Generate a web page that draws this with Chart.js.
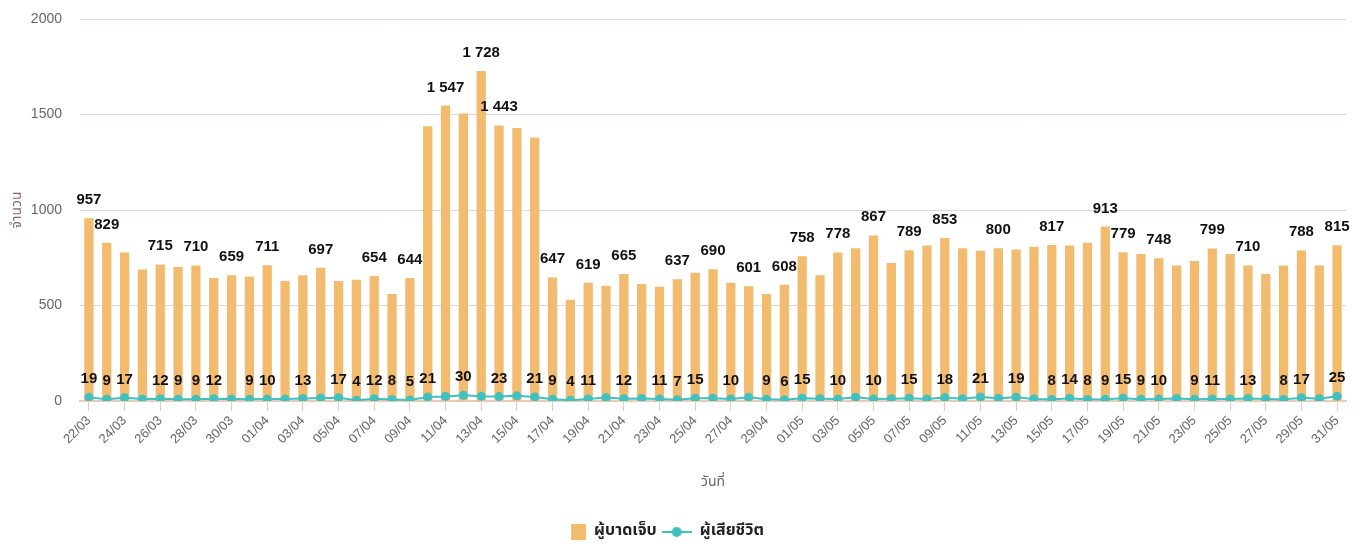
<!DOCTYPE html>
<html>
<head>
<meta charset="utf-8">
<script src="https://cdn.jsdelivr.net/npm/chart.js@4.4.0/dist/chart.umd.min.js"></script>
<style>
  html, body { margin: 0; padding: 0; background: #fff; }
  #wrap { width: 1354px; height: 545px; }
</style>
</head>
<body>
<div id="wrap"><canvas id="grafico"></canvas></div>
<script>
// datas (dd/mm) de 22/03 a 31/05
const dias = [
  '22/03','23/03','24/03','25/03','26/03','27/03','28/03','29/03','30/03','31/03',
  '01/04','02/04','03/04','04/04','05/04','06/04','07/04','08/04','09/04','10/04',
  '11/04','12/04','13/04','14/04','15/04','16/04','17/04','18/04','19/04','20/04',
  '21/04','22/04','23/04','24/04','25/04','26/04','27/04','28/04','29/04','30/04',
  '01/05','02/05','03/05','04/05','05/05','06/05','07/05','08/05','09/05','10/05',
  '11/05','12/05','13/05','14/05','15/05','16/05','17/05','18/05','19/05','20/05',
  '21/05','22/05','23/05','24/05','25/05','26/05','27/05','28/05','29/05','30/05','31/05'
];

// ผู้บาดเจ็บ
const feridos = [
  957, 829, 778, 688, 715, 702, 710, 644, 659, 651,
  711, 628, 658, 697, 628, 635, 654, 560, 644, 1438,
  1547, 1505, 1728, 1443, 1429, 1379, 647, 530, 619, 604,
  665, 612, 598, 637, 672, 690, 619, 601, 560, 608,
  758, 658, 778, 800, 867, 723, 789, 814, 853, 800,
  786, 800, 793, 807, 817, 814, 829, 913, 779, 770,
  748, 710, 733, 799, 770, 710, 665, 710, 788, 710, 815
];

// ผู้เสียชีวิต
const mortos = [
  19, 9, 17, 11, 12, 9, 9, 12, 10, 9,
  10, 10, 13, 16, 17, 4, 12, 8, 5, 21,
  24, 30, 25, 23, 27, 21, 9, 4, 11, 18,
  12, 13, 11, 7, 15, 14, 10, 19, 9, 6,
  15, 12, 10, 20, 10, 12, 15, 10, 18, 12,
  21, 14, 19, 11, 8, 14, 8, 9, 15, 9,
  10, 13, 9, 11, 10, 13, 10, 8, 17, 12, 25
];

const nomes = ['ผู้บาดเจ็บ', 'ผู้เสียชีวิต'];
const ticksY = [0, 500, 1000, 1500, 2000];

const corBarra = '#f3bb6d';
const corLinha = '#3fc2bf';
const corEixo = '#ebcab6';
const corGrade = '#e3d6d6';
const fonteNum = '"Liberation Sans", Arial, sans-serif';
const fonteThai = '"Noto Sans Thai", "Loma", "Garuda", "Tahoma", "Noto Sans", sans-serif';

function formata(v) {
  if (v < 1000) return String(v);
  return Math.floor(v / 1000) + ' ' + String(v % 1000).padStart(3, '0');
}

// marcadores da legenda
function marcaBarra() {
  const c = document.createElement('canvas');
  c.width = 30; c.height = 16;
  const g = c.getContext('2d');
  g.fillStyle = corBarra;
  g.fillRect(15, 0, 15, 16);
  return c;
}

function marcaLinha() {
  const c = document.createElement('canvas');
  c.width = 30; c.height = 12;
  const g = c.getContext('2d');
  g.strokeStyle = corLinha;
  g.lineWidth = 2;
  g.beginPath(); g.moveTo(0, 6); g.lineTo(30, 6); g.stroke();
  g.fillStyle = corLinha;
  g.beginPath(); g.arc(15, 6, 5, 0, Math.PI * 2); g.fill();
  return c;
}

// rótulos de valor, escondendo os que se sobrepõem
const rotulos = {
  id: 'rotulos',
  afterLayout(chart) {
    // legenda um pouco mais à esquerda e mais abaixo
    const l = chart.legend;
    l.left -= 13;
    l.right -= 13;
    l.top += 5;
    l.bottom += 5;
  },
  afterDatasetsDraw(chart) {
    const ctx = chart.ctx;
    ctx.save();
    ctx.font = 'bold 15px ' + fonteNum;
    ctx.fillStyle = '#111';
    ctx.textAlign = 'center';
    ctx.textBaseline = 'alphabetic';

    const cruza = (a, b) => a.x1 < b.x2 && b.x1 < a.x2 && a.y1 < b.y2 && b.y1 < a.y2;

    const caixa = (el, v, pad) => {
      const txt = formata(v);
      const w = ctx.measureText(txt).width;
      const base = el.y - 14;
      return { txt, x: el.x, base, x1: el.x - w / 2 - pad, x2: el.x + w / 2 + pad, y1: base - 17, y2: base + 5 };
    };

    // barras: maior valor primeiro
    const barras = chart.getDatasetMeta(0).data.map((el, i) => caixa(el, feridos[i], 2));
    const ordem = barras.map((b, i) => i).sort((a, b) => feridos[b] - feridos[a] || a - b);
    const aceitos = [];
    ordem.forEach(i => {
      if (!aceitos.some(a => cruza(a, barras[i]))) aceitos.push(barras[i]);
    });

    // linha: da esquerda para a direita
    const pontos = chart.getDatasetMeta(1).data.map((el, i) => caixa(el, mortos[i], 1.5));
    const aceitosL = [];
    pontos.forEach(p => {
      if (!aceitosL.some(a => cruza(a, p))) aceitosL.push(p);
    });

    aceitos.concat(aceitosL).forEach(r => ctx.fillText(r.txt, r.x, r.base));
    ctx.restore();
  }
};

const ctx = document.getElementById('grafico').getContext('2d');
new Chart(ctx, {
  type: 'bar',
  data: {
    labels: dias,
    datasets: [{
      type: 'bar',
      label: nomes[0],
      data: feridos,
      backgroundColor: corBarra,
      borderWidth: 0,
      barPercentage: 0.52,
      categoryPercentage: 1,
      order: 2
    }, {
      type: 'line',
      label: nomes[1],
      data: mortos,
      borderColor: corLinha,
      backgroundColor: corLinha,
      borderWidth: 2,
      pointRadius: 4.5,
      pointBorderWidth: 0,
      pointBackgroundColor: corLinha,
      tension: 0,
      order: 1
    }]
  },
  options: {
    responsive: true,
    maintainAspectRatio: false,
    animation: false,
    layout: { padding: { top: 19, right: 8, left: 0, bottom: 0 } },
    scales: {
      x: {
        grid: { display: true, drawOnChartArea: false, offset: false, tickLength: 10, color: corEixo },
        border: { color: corEixo, width: 2 },
        ticks: {
          autoSkip: false,
          minRotation: 45,
          maxRotation: 45,
          padding: 2,
          color: '#666',
          font: { family: fonteNum, size: 13 },
          callback: (v, i) => (i % 2 === 0 ? dias[i] : null)
        },
        title: {
          display: true,
          text: 'วันที่',
          color: '#666',
          font: { family: fonteThai, size: 14 },
          padding: { top: 0, bottom: 22 }
        },
        afterFit: s => { s.height = 113; }
      },
      y: {
        min: 0,
        max: 2000,
        afterBuildTicks: s => { s.ticks = ticksY.map(v => ({ value: v })); },
        ticks: {
          padding: 3,
          color: '#666',
          font: { family: fonteNum, size: 14 },
          callback: v => String(v)
        },
        grid: { color: corGrade, drawTicks: true, tickLength: 15, tickColor: 'rgba(0,0,0,0)' },
        border: { display: false },
        title: {
          display: true,
          text: 'จำนวน',
          color: '#8a6a60',
          font: { family: fonteThai, size: 14 },
          padding: { top: 10, bottom: 0 }
        },
        afterFit: s => { s.width = 80; }
      }
    },
    plugins: {
      tooltip: { enabled: false },
      legend: {
        position: 'bottom',
        labels: {
          usePointStyle: true,
          pointStyleWidth: 30,
          padding: 5,
          color: '#222',
          font: { family: fonteThai, size: 16, weight: 'bold' },
          generateLabels: () => [
            { text: nomes[0], pointStyle: marcaBarra(), datasetIndex: 0, fontColor: '#222', lineWidth: 0 },
            { text: nomes[1], pointStyle: marcaLinha(), datasetIndex: 1, fontColor: '#222', lineWidth: 0 }
          ]
        }
      }
    }
  },
  plugins: [rotulos]
});
</script>
</body>
</html>
